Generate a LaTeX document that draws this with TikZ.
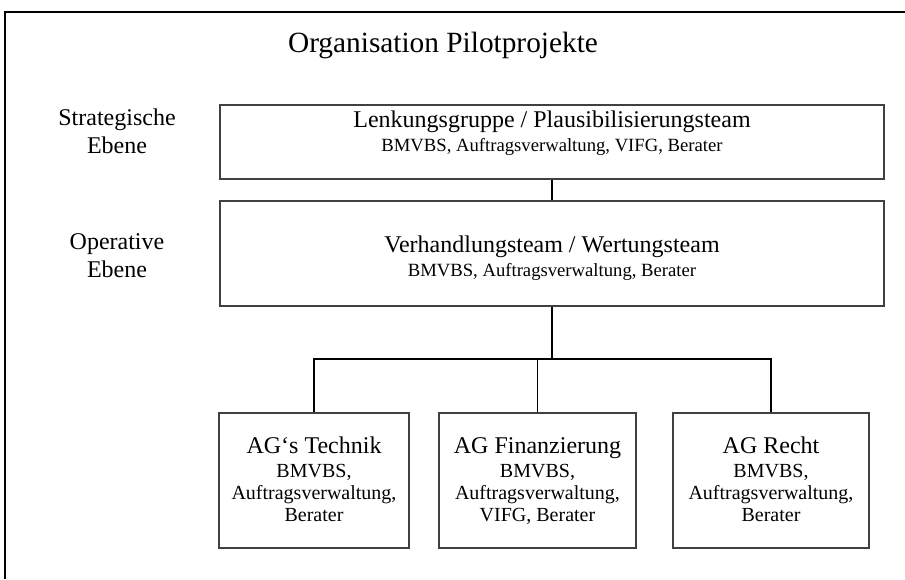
\documentclass[tikz,border=0pt]{standalone}
\usepackage{fontspec}
\setmainfont{Liberation Serif}
\usetikzlibrary{positioning}
\newcommand\orgbig{\fontsize{18}{21}\selectfont}
\newcommand\orgsub{\fontsize{14}{18}\selectfont}
\newcommand\orgagsub{\fontsize{15}{16.5}\selectfont}

\begin{document}
\begin{tikzpicture}[x=0.75pt,y=-0.75pt,
		box/.style={draw=black!75, line width=0.8pt, inner sep=0pt},
		boxtext/.style={align=center, inner sep=0pt, anchor=north},
		level/.style={align=center, inner sep=0pt, font=\orgbig},
		conn/.style={draw=black, line width=0.8pt}]
			\useasboundingbox (0,0) rectangle (905,579);
			\draw[line width=1.1pt] (5,579) -- (5,12) -- (905,12);
			\node (title) at (443,45)[font=\fontsize{22}{26}\selectfont] {Organisation Pilotprojekte};
			\node[level] (strat) at (117,131) {Strategische\\Ebene};
			\node[level] (oper) at (117,256) {Operative\\Ebene};
			\node[box, minimum width=664*0.75pt, minimum height=74*0.75pt] (lenk) at (552,142) {};
			\node[box, minimum width=664*0.75pt, minimum height=105*0.75pt] (verh) at (552,253.5) {};
			\node[box, minimum width=190*0.75pt, minimum height=135*0.75pt] (tech) at (314,480.5) {};
			\node[box, minimum width=197*0.75pt, minimum height=135*0.75pt] (fin) at (537.5,480.5) {};
			\node[box, minimum width=196*0.75pt, minimum height=135*0.75pt] (recht) at (771,480.5) {};
			\node[boxtext, font=\orgsub] (lenktxt) at (552,110.5) {{\orgbig Lenkungsgruppe / Plausibilisierungsteam}\\BMVBS, Auftragsverwaltung, VIFG, Berater};
			\node[boxtext, font=\orgsub] (verhtxt) at (552,236) {{\orgbig Verhandlungsteam / Wertungsteam}\\BMVBS, Auftragsverwaltung, Berater};
			\node[boxtext, font=\orgagsub] (techtxt) at (314,437) {{\orgbig AG‘s Technik}\\[1.5pt]BMVBS,\\Auftragsverwaltung,\\Berater};
			\node[boxtext, font=\orgagsub] (fintxt) at (537.5,437) {{\orgbig AG Finanzierung}\\[1.5pt]BMVBS,\\Auftragsverwaltung,\\VIFG, Berater};
			\node[boxtext, font=\orgagsub] (rechttxt) at (771,437) {{\orgbig AG Recht}\\[1.5pt]BMVBS,\\Auftragsverwaltung,\\Berater};
			\coordinate (bus) at (552,359);
			\draw[conn] (lenk.south) -- (verh.north);
			\draw[conn, line width=2pt] (verh.south) -- (bus);
			\draw[conn] (tech.north) -- (tech.north |- bus) -- (recht.north |- bus) -- (recht.north);
			\draw[conn] (fin.north) -- (fin.north |- bus);
		\end{tikzpicture}
\end{document}
